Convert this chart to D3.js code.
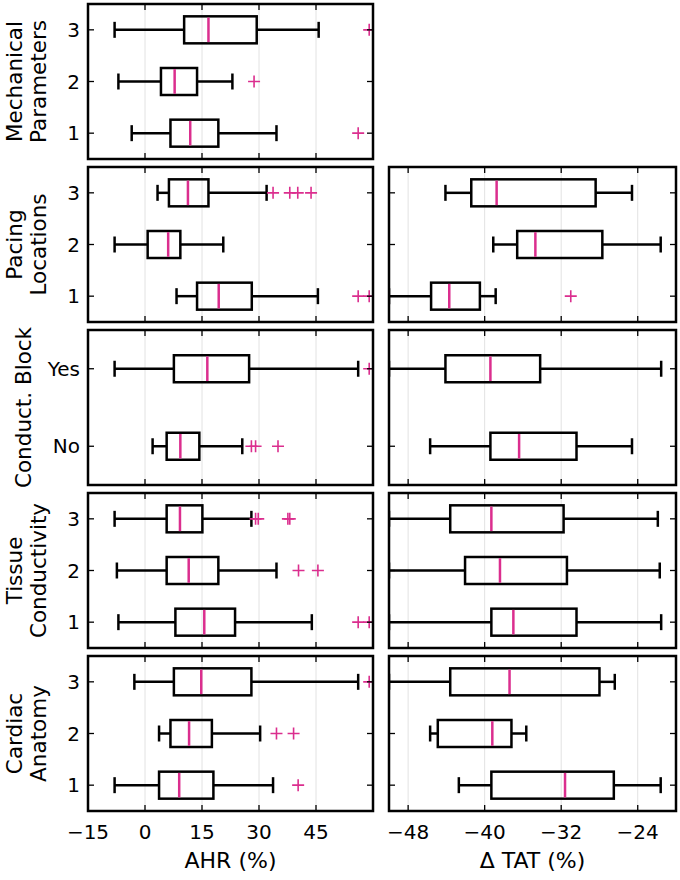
<!DOCTYPE html>
<html>
<head>
<meta charset="utf-8">
<script src="https://cdn.jsdelivr.net/npm/d3@7"></script>
<style>
    body { margin: 0; background: #fff; }
    text { font-family: "DejaVu Sans", sans-serif; fill: #000; }
</style>
</head>
<body>
<script>
// one row per factor, top to bottom
var groupLabels = [["Mechanical", "Parameters"], ["Pacing", "Locations"], ["Conduct. Block"], ["Tissue", "Conductivity"], ["Cardiac", "Anatomy"]];
var groupCategories = [["1", "2", "3"], ["1", "2", "3"], ["No", "Yes"], ["1", "2", "3"], ["1", "2", "3"]];

// [whisker low, q1, median, q3, whisker high] per category (same order as groupCategories)
var ahrStats = [
    [[-3.5, 6.7, 11.9, 19.3, 34.6], [-7.0, 4.2, 7.8, 13.7, 23.0], [-8.0, 10.3, 16.7, 29.4, 45.7]],
    [[8.3, 13.7, 19.4, 28.1, 45.5], [-8.0, 0.7, 6.1, 9.3, 20.6], [3.3, 6.3, 11.3, 16.7, 32.0]],
    [[2.0, 5.7, 9.3, 14.3, 25.6], [-8.0, 7.6, 16.4, 27.4, 56.1]],
    [[-7.0, 8.0, 15.6, 23.7, 43.9], [-7.4, 5.7, 11.5, 19.3, 34.6], [-8.0, 5.7, 9.2, 15.1, 28.0]],
    [[-8.0, 3.7, 9.0, 18.0, 33.7], [3.7, 6.7, 11.6, 17.6, 30.3], [-2.8, 7.6, 14.8, 28.0, 56.1]]
];
var ahrOutliers = [
    [[56.1], [28.7], [59.0]],
    [[56.1, 59.0], [], [33.7, 38.1, 40.2, 43.7]],
    [[28.0, 29.1, 35.0], [59.0]],
    [[56.1, 59.0], [40.4, 45.5], [29.1, 29.8, 37.6, 38.1]],
    [[40.3], [34.6, 39.1], [59.0]]
];

var tatStats = [
    null,
    [[-50.0, -45.6, -43.7, -40.5, -38.85], [-39.1, -36.6, -34.7, -27.7, -21.6], [-44.1, -41.4, -38.75, -28.4, -24.6]],
    [[-45.7, -39.4, -36.4, -30.4, -24.6], [-50.0, -44.1, -39.4, -34.2, -21.55]],
    [[-50.0, -39.3, -37.0, -30.4, -21.55], [-50.0, -42.05, -38.4, -31.4, -21.7], [-50.0, -43.6, -39.3, -31.75, -21.9]],
    [[-42.7, -39.3, -31.6, -26.5, -21.6], [-45.7, -44.9, -39.2, -37.2, -35.65], [-50.0, -43.6, -37.4, -28.0, -26.4]]
];
var tatOutliers = [
    null,
    [[-31.0], [], []],
    [[], []],
    [[], [], []],
    [[], [], []]
];

var ahrDomain = [-15, 60], ahrTicks = [-15, 0, 15, 30, 45];
var tatDomain = [-50, -20], tatTicks = [-48, -40, -32, -24];
var ahrTitle = "AHR (%)", tatTitle = "\u0394 TAT (%)";

function draw() {
    var width = 680, height = 880,
        panelTop = 4, panelH = 155, panelGap = 8,
        boxHalf = 13.5, capHalf = 8, tickLen = 6,
        medianColor = "#db2e8e";

    var svg = d3.select("body").append("svg")
        .attr("width", width)
        .attr("height", height);

    var fmt = function (d) { return d < 0 ? "\u2212" + Math.abs(d) : "" + d; };

    var xAhr = d3.scaleLinear().domain(ahrDomain).range([88, 373]);
    var xTat = d3.scaleLinear().domain(tatDomain).range([389, 676]);

    var clipId = 0;

    function panel(x, ticks, cats, stats, outliers, top, showCats) {
        var bottom = top + panelH;
        var y = d3.scaleLinear().domain([0.5, cats.length + 0.5]).range([bottom, top]);
        var x0 = x.range()[0], x1 = x.range()[1];

        var id = "clip" + (clipId++);
        svg.append("clipPath").attr("id", id)
            .append("rect").attr("x", x0).attr("y", top).attr("width", x1 - x0).attr("height", panelH);

        var g = svg.append("g");

        // light grid
        g.selectAll("line.grid").data(ticks).enter().append("line")
            .attr("x1", x).attr("x2", x)
            .attr("y1", top).attr("y2", bottom)
            .attr("stroke", "#e2e2e2").attr("stroke-width", 1);

        var body = g.append("g").attr("clip-path", "url(#" + id + ")");
        var rows = body.selectAll("g.row").data(stats).enter().append("g")
            .attr("transform", function (d, i) { return "translate(0," + y(i + 1) + ")"; });

        // whiskers
        rows.append("line").attr("x1", function (d) { return x(d[0]); }).attr("x2", function (d) { return x(d[1]); })
            .attr("stroke", "#000").attr("stroke-width", 2.5);
        rows.append("line").attr("x1", function (d) { return x(d[3]); }).attr("x2", function (d) { return x(d[4]); })
            .attr("stroke", "#000").attr("stroke-width", 2.5);
        rows.append("line").attr("x1", function (d) { return x(d[0]); }).attr("x2", function (d) { return x(d[0]); })
            .attr("y1", -capHalf).attr("y2", capHalf)
            .attr("stroke", "#000").attr("stroke-width", 2.5);
        rows.append("line").attr("x1", function (d) { return x(d[4]); }).attr("x2", function (d) { return x(d[4]); })
            .attr("y1", -capHalf).attr("y2", capHalf)
            .attr("stroke", "#000").attr("stroke-width", 2.5);

        // box
        rows.append("rect")
            .attr("x", function (d) { return x(d[1]); })
            .attr("width", function (d) { return x(d[3]) - x(d[1]); })
            .attr("y", -boxHalf).attr("height", 2 * boxHalf)
            .attr("fill", "none").attr("stroke", "#000").attr("stroke-width", 2.5);

        // median
        rows.append("line").attr("x1", function (d) { return x(d[2]); }).attr("x2", function (d) { return x(d[2]); })
            .attr("y1", -boxHalf + 1.2).attr("y2", boxHalf - 1.2)
            .attr("stroke", medianColor).attr("stroke-width", 2.5);

        // outliers as plus signs
        rows.each(function (d, i) {
            d3.select(this).selectAll("path.flier").data(outliers[i]).enter().append("path")
                .attr("d", function (v) {
                    var px = x(v);
                    return "M" + (px - 6) + ",0H" + (px + 6) + "M" + px + ",-6V6";
                })
                .attr("stroke", medianColor).attr("stroke-width", 1.6).attr("fill", "none");
        });

        // ticks on all four sides, pointing in
        var catIdx = d3.range(1, cats.length + 1);
        g.selectAll("line.yl").data(catIdx).enter().append("line")
            .attr("x1", x0).attr("x2", x0 + tickLen).attr("y1", y).attr("y2", y)
            .attr("stroke", "#000").attr("stroke-width", 1.3);
        g.selectAll("line.yr").data(catIdx).enter().append("line")
            .attr("x1", x1 - tickLen).attr("x2", x1).attr("y1", y).attr("y2", y)
            .attr("stroke", "#000").attr("stroke-width", 1.3);
        g.selectAll("line.xt").data(ticks).enter().append("line")
            .attr("x1", x).attr("x2", x).attr("y1", top).attr("y2", top + tickLen)
            .attr("stroke", "#000").attr("stroke-width", 1.3);
        g.selectAll("line.xb").data(ticks).enter().append("line")
            .attr("x1", x).attr("x2", x).attr("y1", bottom - tickLen).attr("y2", bottom)
            .attr("stroke", "#000").attr("stroke-width", 1.3);

        // frame
        g.append("rect").attr("x", x0).attr("y", top).attr("width", x1 - x0).attr("height", panelH)
            .attr("fill", "none").attr("stroke", "#000").attr("stroke-width", 2.5);

        if (showCats) {
            g.selectAll("text.cat").data(cats).enter().append("text")
                .attr("x", 80).attr("y", function (d, i) { return y(i + 1); })
                .attr("dy", "0.36em")
                .attr("text-anchor", "end")
                .style("font-size", "20px")
                .text(function (d) { return d; });
        }
        return bottom;
    }

    var lastBottom = 0;
    groupLabels.forEach(function (lab, gi) {
        var top = panelTop + gi * (panelH + panelGap);
        var cats = groupCategories[gi];
        lastBottom = panel(xAhr, ahrTicks, cats, ahrStats[gi], ahrOutliers[gi], top, true);
        if (tatStats[gi]) {
            panel(xTat, tatTicks, cats, tatStats[gi], tatOutliers[gi], top, false);
        }

        // group label, rotated
        var cy = top + panelH / 2;
        var baseX = lab.length === 1 ? [31] : [22, 46];
        lab.forEach(function (line, li) {
            svg.append("text")
                .attr("transform", "translate(" + baseX[li] + "," + cy + ") rotate(-90)")
                .attr("text-anchor", "middle")
                .style("font-size", "21.5px")
                .text(line);
        });
    });

    // bottom axes labels
    [[xAhr, ahrTicks, ahrTitle], [xTat, tatTicks, tatTitle]].forEach(function (a) {
        var x = a[0];
        svg.selectAll(null).data(a[1]).enter().append("text")
            .attr("x", x).attr("y", lastBottom + 28)
            .attr("text-anchor", "middle")
            .style("font-size", "20px")
            .text(fmt);
        svg.append("text")
            .attr("x", (x.range()[0] + x.range()[1]) / 2).attr("y", lastBottom + 57)
            .attr("text-anchor", "middle")
            .style("font-size", "22px")
            .text(a[2]);
    });
}

window.addEventListener("load", function () {
    draw();
});
</script>
</body>
</html>
